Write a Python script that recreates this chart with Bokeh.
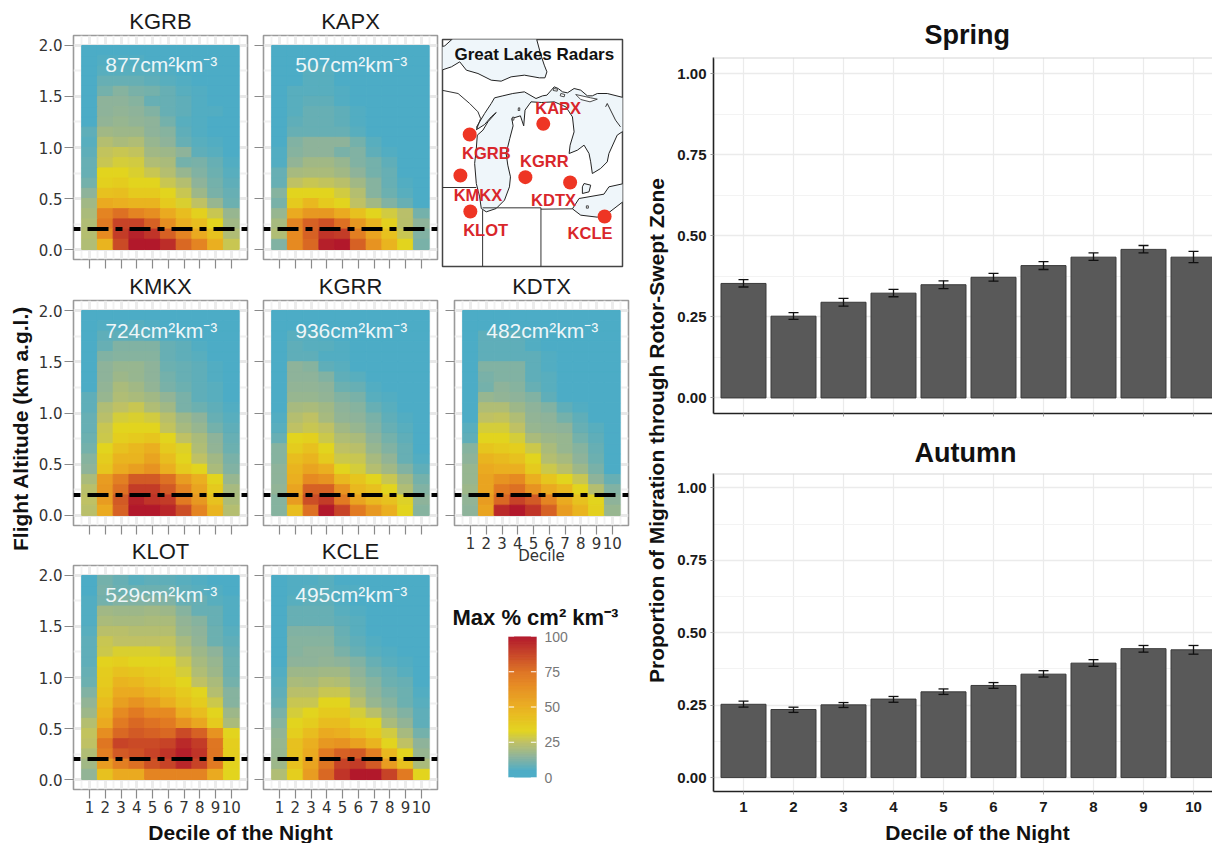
import math
import numpy as np
from bokeh.embed import file_html
from bokeh.layouts import column, row
from bokeh.models import (ColumnDataSource, FixedTicker, Label, LinearAxis, LinearColorMapper,
                          NumeralTickFormatter, Span, TeeHead, Whisker)
from bokeh.plotting import figure
from bokeh.resources import INLINE

DECILES = [1, 2, 3, 4, 5, 6, 7, 8, 9, 10]
ALTITUDE_BINS = [1.95 - 0.1 * i for i in range(20)]

# each table: one row per altitude bin (top 1.9-2.0 km first), one column per decile
KGRB = [
[4,5,5,5,5,5,4,4,4,4],[4,6,6,6,5,5,5,4,4,4],[4,7,7,7,7,6,5,5,4,4],[4,9,9,9,8,7,6,5,4,4],
[4,11,14,12,11,9,7,6,5,4],[4,15,15,14,9,9,8,6,5,4],[4,15,16,15,13,9,8,6,6,4],[4,16,17,16,15,11,7,6,5,5],
[8,19,18,18,15,14,8,6,5,5],[7,23,21,22,17,15,9,7,6,5],[8,26,27,26,19,18,15,8,7,5],[9,27,30,29,22,21,11,12,9,6],
[9,33,33,31,27,23,17,13,10,7],[11,35,37,33,33,27,23,15,11,8],[15,42,43,38,38,33,27,18,12,9],[19,52,50,48,48,38,31,25,17,10],
[21,68,76,68,64,52,44,35,27,17],[22,72,88,88,80,64,50,44,33,19],[23,66,90,97,92,80,68,52,42,22],[22,48,86,100,100,94,78,68,50,27]]
KAPX = [
[4,4,4,4,4,4,4,4,4,4],[4,5,5,5,5,4,4,4,4,4],[4,5,7,7,5,4,4,4,4,4],[4,5,7,7,5,5,4,4,4,4],
[4,7,7,7,6,5,4,4,4,4],[4,7,8,8,6,5,5,4,4,4],[4,7,9,9,8,6,5,4,4,4],[4,8,9,9,8,6,5,4,4,4],
[4,9,9,9,9,7,5,4,4,4],[5,13,15,15,15,11,7,5,4,4],[6,14,15,15,12,13,8,6,4,4],[6,16,19,19,17,13,11,8,4,4],
[9,20,21,21,19,15,11,9,5,4],[9,25,27,26,24,19,14,9,6,4],[14,33,33,33,29,23,14,10,7,5],[12,38,46,38,33,25,19,13,9,5],
[17,52,60,60,52,42,33,29,24,11],[20,68,80,84,76,60,48,35,24,15],[22,66,80,92,90,70,55,42,27,13],[13,66,78,98,100,80,62,48,33,12]]
KMKX = [
[4,4,4,4,4,4,4,4,4,4],[4,6,6,7,6,5,5,4,4,4],[4,8,8,8,7,6,6,5,4,4],[4,9,13,13,13,9,8,6,5,4],
[4,13,14,14,14,9,8,7,5,4],[4,15,17,17,15,10,9,8,6,4],[4,15,18,17,15,11,9,8,6,4],[4,16,21,19,16,12,10,8,7,5],
[8,17,22,21,19,16,12,8,7,5],[8,22,25,27,22,19,12,10,8,6],[9,24,30,31,29,24,18,15,9,7],[9,27,33,33,33,26,20,17,11,8],
[10,28,36,38,40,33,25,21,15,9],[11,33,42,46,50,38,32,22,16,10],[14,37,48,48,55,44,33,25,19,12],[15,40,52,57,62,50,38,33,21,13],
[21,58,70,82,82,76,58,50,33,17],[24,60,76,90,90,82,68,55,38,20],[25,58,82,97,92,90,72,60,42,21],[24,52,80,100,100,96,85,68,48,23]]
KGRR = [
[4,4,4,4,4,4,4,4,4,4],[4,5,5,4,4,4,4,4,4,4],[4,7,7,6,5,4,4,4,4,4],[4,8,7,7,6,5,4,4,4,4],
[4,8,8,6,6,5,4,4,4,4],[4,15,14,8,7,5,4,4,4,4],[4,15,15,13,8,7,5,4,4,4],[4,16,16,15,10,9,6,5,4,4],
[4,17,17,16,13,12,7,6,4,4],[5,20,21,19,15,14,9,7,5,4],[6,23,25,20,16,15,12,8,6,4],[7,25,27,25,19,17,13,9,7,4],
[9,33,35,28,22,21,15,11,8,4],[14,37,42,33,25,24,17,13,9,5],[14,44,48,38,28,27,20,16,9,6],[15,48,55,50,33,30,23,19,13,8],
[15,50,66,62,46,40,33,27,19,11],[16,55,80,80,62,46,42,33,22,13],[14,58,85,90,72,55,46,42,32,15],[14,44,76,100,88,72,60,50,33,14]]
KDTX = [
[4,4,4,4,4,4,4,4,4,4],[4,5,5,4,4,4,4,4,4,4],[4,8,8,8,6,4,4,4,4,4],[4,8,8,8,6,5,4,4,4,4],
[4,8,8,8,8,6,4,4,4,4],[4,13,13,13,8,6,4,4,4,4],[4,12,13,13,8,7,4,4,4,4],[4,11,15,14,9,7,4,4,4,4],
[4,17,16,15,13,8,5,4,4,4],[4,22,22,18,15,13,8,6,4,4],[5,25,26,22,16,15,11,8,5,4],[7,30,30,25,17,16,15,9,7,4],
[8,33,33,30,21,18,17,11,8,4],[14,40,38,36,28,21,17,14,9,4],[15,48,45,42,33,23,20,15,10,5],[17,52,50,50,38,28,24,18,12,5],
[17,55,62,66,50,40,33,27,15,9],[18,55,72,76,62,52,46,33,23,13],[16,58,78,88,82,68,52,42,33,15],[15,55,95,100,92,80,58,48,35,17]]
KLOT = [
[5,11,9,7,8,8,7,6,5,4],[5,12,10,10,10,10,8,7,6,5],[6,11,13,13,13,13,9,9,7,6],[6,19,18,18,19,18,14,9,9,6],
[6,21,20,20,21,21,16,14,9,6],[7,24,24,23,23,23,17,15,10,7],[8,27,25,25,25,26,20,16,10,8],[8,28,31,31,31,28,23,18,15,9],
[8,34,36,33,33,33,27,20,17,10],[9,37,42,40,38,36,30,22,18,10],[10,38,48,46,42,38,33,25,21,11],[13,40,52,52,48,44,38,33,23,14],
[16,44,57,62,57,50,42,37,28,14],[18,48,66,72,66,66,50,44,33,18],[23,52,72,78,75,72,62,54,38,21],[26,64,78,82,80,78,86,80,62,33],
[25,74,88,86,86,88,95,90,74,36],[22,70,82,84,88,92,98,92,74,36],[19,58,70,76,84,88,96,88,72,34],[16,42,52,52,68,68,68,68,52,33]]
KCLE = [
[4,6,6,7,5,5,5,4,4,4],[4,6,7,7,6,6,5,4,4,4],[4,7,8,8,6,5,4,4,4,4],[4,9,9,9,7,6,5,4,4,4],
[4,9,9,9,8,7,5,4,4,4],[4,13,13,13,9,7,5,4,4,4],[4,14,14,14,10,8,6,5,4,4],[4,14,15,15,12,9,7,6,5,4],
[5,15,15,16,15,13,9,7,6,4],[6,18,18,19,19,15,11,9,7,4],[7,21,20,23,22,17,14,10,9,5],[8,24,24,27,27,20,15,12,10,6],
[9,27,27,33,33,24,17,14,10,7],[12,30,33,38,38,30,24,17,13,8],[14,33,37,44,44,35,33,21,16,8],[16,36,44,52,50,44,38,29,20,11],
[17,42,50,60,62,56,48,33,25,15],[17,42,52,72,80,82,70,46,33,17],[18,42,55,74,88,90,82,58,42,21],[22,36,58,78,92,100,100,88,72,33]]

PEAK_LABELS = {"KGRB": "877cm²km⁻³", "KAPX": "507cm²km⁻³", "KMKX": "724cm²km⁻³", "KGRR": "936cm²km⁻³",
               "KDTX": "482cm²km⁻³", "KLOT": "529cm²km⁻³", "KCLE": "495cm²km⁻³"}

SPRING = [.353, .252, .295, .323, .349, .372, .408, .434, .458, .434]
SPRING_HI = [.365, .263, .307, .335, .361, .384, .420, .447, .470, .452]
SPRING_LO = [.342, .242, .283, .312, .337, .360, .396, .424, .447, .417]
AUTUMN = [.253, .235, .251, .271, .296, .318, .357, .395, .445, .441]
AUTUMN_HI = [.264, .243, .259, .280, .306, .328, .369, .407, .456, .456]
AUTUMN_LO = [.243, .225, .242, .260, .287, .308, .347, .384, .433, .426]

# Map outlines, in map units of the inset (y grows downward)
LAKES = {
 "Superior": ([10,40,285,300,310,318,312,295,250,210,180,150,110,75,55,30,0,-5,-5,10],
              [22,-5,-5,50,80,100,118,118,110,115,128,125,105,95,70,85,95,95,26,22]),
 "Michigan-Huron": ([160,185,215,250,285,305,318,340,352,365,380,400,420,440,455,470,500,560,560,530,505,500,480,455,450,445,430,410,385,388,400,395,375,340,302,270,252,248,238,212,216,206,195,200,208,205,190,165,135,120,115,105,100,105,108,125,140,165,150,130,108,106,130,150],
                    [178,172,165,160,180,172,170,145,150,160,163,150,155,172,172,165,165,180,270,290,345,370,390,405,370,345,320,335,345,320,280,235,205,190,192,190,215,262,232,240,262,300,345,380,415,445,485,510,520,510,475,435,375,330,290,275,250,222,235,258,272,265,225,195]),
 "St Clair": ([430,450,445,425,425], [435,440,460,465,445]),
 "Erie": ([395,415,490,505,560,560,500,470,420], [511,480,467,445,433,480,526,536,530]),
}
ISLANDS = {
 "Beaver": ([232,236,236,231], [208,208,216,216]),
 "Manitou": ([214,219,218,213], [236,236,245,245]),
 "Bois Blanc": ([338,350,349,337], [150,152,158,156]),
 "Drummond": ([360,372,370,358], [165,168,175,172]),
 "Manitoulin": ([405,450,470,448,420], [168,178,182,190,183]),
 "Pelee": ([437,443,443,437], [502,502,509,509]),
}
COAST_LINES = [
 ([0,50,85,110,118,105], [155,165,195,220,240,275]),
 ([495,500,525,540], [205,195,245,265]),
 ([0,105], [447,447]),
 ([124,124], [515,690]),
 ([124,300], [508,508]),
 ([300,300], [508,690]),
 ([300,395], [512,511]),
]
RADAR_NAMES = ["KGRB", "KAPX", "KMKX", "KGRR", "KDTX", "KLOT", "KCLE"]
RADAR_X = [85, 307, 57, 253, 388, 87, 492]
RADAR_Y = [288, 256, 411, 416, 432, 519, 534]
RADAR_LABEL_X = [135, 352, 110, 310, 338, 133, 448]
RADAR_LABEL_Y = [343, 208, 470, 368, 485, 573, 583]

STOPS = [(0, "#4BACC6"), (5, "#4DADC6"), (15, "#8FB49A"), (25, "#BFC165"), (33, "#E3D51E"),
         (50, "#EBB020"), (66, "#E68A22"), (75, "#DF7423"), (100, "#B2182B")]
LEGEND_TICKS = [0, 25, 50, 75, 100]


def hex_rgb(h):
    return [int(h[i:i + 2], 16) for i in (1, 3, 5)]


def ramp(n=256):
    xs = np.linspace(0, 100, n)
    pos = [s[0] for s in STOPS]
    chans = [np.interp(xs, pos, [hex_rgb(s[1])[k] for s in STOPS]) for k in range(3)]
    return ["#%02x%02x%02x" % (int(r), int(g), int(b)) for r, g, b in zip(*chans)]


PALETTE = ramp()
MAPPER = LinearColorMapper(palette=PALETTE, low=0, high=100)
SANS = "Liberation Sans"
DEJA = "DejaVu Sans"


def strip(w, h, x0, y0, text, tx, ty, angle=0.0, size="21px"):
    p = figure(width=w, height=h, x_range=(x0, x0 + w), y_range=(y0 + h, y0), x_axis_location=None,
               y_axis_location=None, toolbar_location=None, output_backend="svg",
               min_border=0, min_border_left=0, min_border_right=0, min_border_top=0, min_border_bottom=0,
               outline_line_color=None, background_fill_color=None, border_fill_color=None)
    p.grid.visible = False
    p.add_layout(Label(x=tx, y=ty, text=text, angle=angle, text_align="center", text_baseline="middle",
                       text_font=SANS, text_font_style="bold", text_font_size=size, text_color="#111111"))
    return p


def heat_panel(name, table, top, fh, bottom, left, right, xlabels=False, ylabels=False, standoff=4):
    h = top + fh + bottom
    w = left + 174 + right
    p = figure(width=w, height=h, x_range=(-0.02, 11.03), y_range=(-0.098, 2.098),
               toolbar_location=None, output_backend="svg", min_border_left=left, min_border_right=right,
               min_border_top=top, min_border_bottom=bottom, outline_line_color="#9a9a9a", outline_line_width=1.6,
               title=name)
    p.title.align = "center"
    p.title.text_font = SANS
    p.title.text_font_style = "normal"
    p.title.text_font_size = "22px"
    p.title.text_color = "#1a1a1a"
    p.title.standoff = standoff
    xs, ys, vs = [], [], []
    for r, vals in enumerate(table):
        for c, v in enumerate(vals):
            xs.append(DECILES[c]); ys.append(ALTITUDE_BINS[r]); vs.append(v)
    src = ColumnDataSource(dict(x=xs, y=ys, v=vs))
    p.rect("x", "y", width=1, height=0.1, source=src,
           fill_color={"field": "v", "transform": MAPPER}, line_color={"field": "v", "transform": MAPPER}, line_width=1)
    p.add_layout(Span(location=0.2, dimension="width", line_color="black", line_width=4,
                      line_dash="21 7 7 7", line_dash_offset=28))
    p.xaxis.ticker = FixedTicker(ticks=DECILES, minor_ticks=[d - 0.5 for d in DECILES] + [10.5])
    p.yaxis.ticker = FixedTicker(ticks=[0, .5, 1, 1.5, 2], minor_ticks=[.25, .75, 1.25, 1.75])
    p.yaxis.formatter = NumeralTickFormatter(format="0.0")
    p.xgrid.grid_line_color = "#ececec"; p.xgrid.grid_line_width = 3
    p.xgrid.minor_grid_line_color = "#f2f2f2"; p.xgrid.minor_grid_line_width = 2
    p.ygrid.grid_line_color = "#e8e8e8"; p.ygrid.grid_line_width = 3
    p.ygrid.minor_grid_line_color = "#f0f0f0"; p.ygrid.minor_grid_line_width = 2
    for ax in (p.xaxis[0], p.yaxis[0]):
        ax.axis_line_color = None
        ax.major_tick_line_color = "#8a8a8a"
        ax.major_tick_line_width = 1.2
        ax.major_tick_out = 9
        ax.major_tick_in = 0
        ax.minor_tick_out = 0
        ax.minor_tick_in = 0
        ax.major_label_text_font = DEJA
        ax.major_label_text_font_size = "15px"
        ax.major_label_text_color = "#333333"
    p.xaxis[0].major_label_standoff = 2 if xlabels else 0
    p.yaxis[0].major_label_standoff = 2 if ylabels else 0
    if not xlabels:
        p.xaxis[0].major_label_overrides = {d: "" for d in DECILES}
    if not ylabels:
        p.yaxis[0].major_label_overrides = {t: "" for t in [0, .5, 1, 1.5, 2]}
    p.add_layout(Label(x=5.55, y=1.81, text=PEAK_LABELS[name], text_align="center", text_baseline="middle",
                       text_font=SANS, text_font_size="21px", text_color="#eef6f8"))
    return p


def map_panel():
    p = figure(width=199, height=269, x_range=(3, 546), y_range=(684, 3), toolbar_location=None,
               output_backend="svg", x_axis_location=None, y_axis_location=None,
               min_border_left=1, min_border_right=18, min_border_top=39, min_border_bottom=3,
               outline_line_color="#444444", outline_line_width=1.5)
    p.grid.visible = False
    p.patches([v[0] for v in LAKES.values()], [v[1] for v in LAKES.values()],
              fill_color="#eff6fa", line_color="#222222", line_width=1)
    p.patches([v[0] for v in ISLANDS.values()], [v[1] for v in ISLANDS.values()],
              fill_color="#ffffff", line_color="#222222", line_width=0.8)
    p.multi_line([c[0] for c in COAST_LINES], [c[1] for c in COAST_LINES], line_color="#333333", line_width=1)
    p.scatter(RADAR_X, RADAR_Y, size=14, fill_color="#ee3524", line_color=None)
    p.add_layout(Label(x=280, y=47, text="Great Lakes Radars", text_align="center", text_baseline="middle",
                       text_font=SANS, text_font_style="bold", text_font_size="17px", text_color="#111111"))
    for n, x, y in zip(RADAR_NAMES, RADAR_LABEL_X, RADAR_LABEL_Y):
        p.add_layout(Label(x=x, y=y, text=n, text_align="center", text_baseline="middle", text_font=SANS,
                           text_font_style="bold", text_font_size="16.5px", text_color="#d9262b"))
    return p


def legend_panel():
    p = figure(width=199, height=274, x_range=(0, 1), y_range=(0, 100), toolbar_location=None,
               output_backend="svg", x_axis_location=None, y_axis_location=None,
               min_border_left=67, min_border_right=104, min_border_top=67, min_border_bottom=66,
               outline_line_color=None, title="Max % cm² km⁻³")
    p.title.align = "left"
    p.title.offset = -56
    p.title.standoff = 13
    p.title.text_font = SANS
    p.title.text_font_style = "bold"
    p.title.text_font_size = "22px"
    p.title.text_color = "#111111"
    p.grid.visible = False
    edges = np.linspace(0, 100, len(PALETTE) + 1)
    p.quad(left=0, right=1, bottom=edges[:-1], top=edges[1:], fill_color=PALETTE, line_color=PALETTE, line_width=0.5)
    tv = [t for t in LEGEND_TICKS]
    p.segment([0] * 5, tv, [0.2] * 5, tv, line_color="#ffffff", line_width=1)
    p.segment([0.8] * 5, tv, [1] * 5, tv, line_color="#ffffff", line_width=1)
    ax = LinearAxis(ticker=FixedTicker(ticks=LEGEND_TICKS))
    ax.axis_line_color = None
    ax.major_tick_line_color = None
    ax.minor_tick_line_color = None
    ax.major_label_standoff = 2
    ax.major_label_text_font = SANS
    ax.major_label_text_font_size = "14px"
    ax.major_label_text_color = "#777777"
    p.add_layout(ax, "right")
    return p


def bar_panel(title, vals, hi, lo, top, fh, bottom, xlabels, standoff, offset):
    p = figure(width=544, height=top + fh + bottom, x_range=(0.4, 10.4), y_range=(-0.048, 1.0496),
               toolbar_location=None, output_backend="svg", min_border_left=44, min_border_right=0,
               min_border_top=top, min_border_bottom=bottom, outline_line_color=None, title=title)
    p.title.align = "left"
    p.title.offset = offset
    p.title.standoff = standoff
    p.title.text_font = SANS
    p.title.text_font_style = "bold"
    p.title.text_font_size = "27px"
    p.title.text_color = "#111111"
    src = ColumnDataSource(dict(x=DECILES, v=vals, hi=hi, lo=lo))
    p.vbar("x", top="v", width=0.9, bottom=0, source=src, fill_color="#595959", line_color="#3a3a3a", line_width=1)
    p.add_layout(Whisker(base="x", upper="hi", lower="lo", source=src, line_color="#111111", line_width=1.3,
                         upper_head=TeeHead(size=10, line_color="#111111", line_width=1.3),
                         lower_head=TeeHead(size=10, line_color="#111111", line_width=1.3), level="overlay"))
    p.add_layout(Span(location=1.0496, dimension="width", line_color="#d5d5d5", line_width=2))
    p.xaxis.ticker = FixedTicker(ticks=DECILES)
    p.yaxis.ticker = FixedTicker(ticks=[0, .25, .5, .75, 1], minor_ticks=[.125, .375, .625, .875])
    p.yaxis.formatter = NumeralTickFormatter(format="0.00")
    p.xgrid.grid_line_color = "#ebebeb"; p.xgrid.grid_line_width = 1.2
    p.ygrid.grid_line_color = "#ebebeb"; p.ygrid.grid_line_width = 1.4
    p.ygrid.minor_grid_line_color = "#f3f3f3"; p.ygrid.minor_grid_line_width = 1
    for ax in (p.xaxis[0], p.yaxis[0]):
        ax.axis_line_color = "#222222"
        ax.axis_line_width = 1.6
        ax.major_tick_line_color = "#999999"
        ax.major_tick_out = 3
        ax.major_tick_in = 0
        ax.minor_tick_out = 0
        ax.minor_tick_in = 0
        ax.major_label_text_font = SANS
        ax.major_label_text_font_style = "bold"
        ax.major_label_text_font_size = "15px"
        ax.major_label_text_color = "#1a1a1a"
        ax.major_label_standoff = 4
    if not xlabels:
        p.xaxis[0].major_label_overrides = {d: "" for d in DECILES}
        p.xaxis[0].major_label_standoff = 0
    else:
        p.xaxis[0].major_label_standoff = 7
    return p


col1 = column(heat_panel("KGRB", KGRB, 35, 224, 10, 40, 4, ylabels=True),
              heat_panel("KMKX", KMKX, 31, 225, 10, 40, 4, ylabels=True),
              heat_panel("KLOT", KLOT, 30, 224, 30, 40, 4, xlabels=True, ylabels=True, standoff=3), spacing=0)
col2 = column(heat_panel("KAPX", KAPX, 35, 224, 10, 12, 4),
              heat_panel("KGRR", KGRR, 31, 225, 10, 12, 4),
              heat_panel("KCLE", KCLE, 30, 224, 30, 12, 4, xlabels=True, standoff=3), spacing=0)

kdtx = heat_panel("KDTX", KDTX, 31, 225, 44, 13, 13, xlabels=True)
kdtx.xaxis[0].axis_label = "Decile"
kdtx.xaxis[0].axis_label_standoff = -5
kdtx.xaxis[0].axis_label_text_font = DEJA
kdtx.xaxis[0].axis_label_text_font_style = "normal"
kdtx.xaxis[0].axis_label_text_font_size = "15px"
kdtx.xaxis[0].axis_label_text_color = "#333333"
col3 = column(row(map_panel()), row(kdtx), row(legend_panel()), spacing=0)

decile_left = strip(408, 24, 33, 819, "Decile of the Night", 240, 832)
left_block = column(row(col1, col2, spacing=0), row(decile_left), spacing=0)

strip_left = strip(33, 843, 0, 0, "Flight Altitude (km a.g.l.)", 20, 428, angle=math.pi / 2)
strip_right = strip(28, 843, 640, 0, "Proportion of Migration through Rotor-Swept Zone", 655, 430, angle=math.pi / 2)

spring = bar_panel("Spring", SPRING, SPRING_HI, SPRING_LO, 57, 356, 13, False, 16, 211)
autumn = bar_panel("Autumn", AUTUMN, AUTUMN_HI, AUTUMN_LO, 47, 318, 28, True, 12, 201)
decile_right = strip(544, 24, 668, 819, "Decile of the Night", 976, 832)
right_block = column(spring, autumn, row(decile_right), spacing=0)

page = row(strip_left, left_block, col3, strip_right, right_block, spacing=0)
open("out.html", "w").write(file_html(page, INLINE))
